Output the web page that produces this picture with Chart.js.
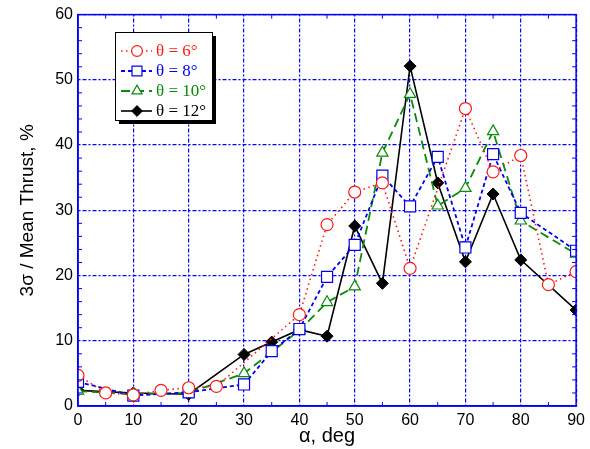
<!DOCTYPE html>
<html>
<head>
<meta charset="utf-8">
<script src="https://cdn.jsdelivr.net/npm/chart.js@4.4.0/dist/chart.umd.min.js"></script>
<style>
  html, body { margin: 0; padding: 0; background: #fff; }
  #wrap { width: 590px; height: 449px; }
</style>
</head>
<body>
<div id="wrap"><canvas id="thrustChart"></canvas></div>
<script>
// angle positions (deg)
const alphaRed = [0, 5, 10, 15, 20, 25, 40, 45, 50, 55, 60, 70, 75, 80, 85, 90];
const alphaOther = [0, 10, 20, 30, 35, 40, 45, 50, 55, 60, 65, 70, 75, 80, 90];

// 3 sigma / mean thrust, %
const theta6 = [4.7, 2.0, 1.7, 2.4, 2.8, 3.0, 14.0, 27.8, 32.8, 34.2, 21.1, 45.6, 35.9, 38.4, 18.6, 20.6];
const theta8 = [3.7, 1.6, 2.1, 3.3, 8.4, 11.8, 19.8, 24.7, 35.3, 30.6, 38.2, 24.3, 38.6, 29.6, 23.8];
const theta10 = [2.3, 1.8, 2.0, 5.0, 8.3, 11.6, 15.9, 18.3, 38.8, 47.8, 30.7, 33.4, 42.1, 28.4, 23.3];
const theta12 = [2.4, 2.0, 1.8, 7.9, 9.8, 11.7, 10.7, 27.6, 18.8, 52.1, 34.2, 22.1, 32.5, 22.4, 14.7];

const seriesLabels = ["θ = 6°", "θ = 8°", "θ = 10°", "θ = 12°"];
const xTicks = [0, 10, 20, 30, 40, 50, 60, 70, 80, 90];
const yTicks = [0, 10, 20, 30, 40, 50, 60];

const AXIS_BLUE = "#0000ff";

function pts(xs, ys) {
  return xs.map((x, i) => ({ x: x, y: ys[i] }));
}

// frame, minor ticks and the boxed legend
const decorPlugin = {
  id: "decor",
  afterDraw(chart) {
    const ctx = chart.ctx;
    const a = chart.chartArea;
    const xs = chart.scales.x;
    const ys = chart.scales.y;

    ctx.save();
    ctx.strokeStyle = AXIS_BLUE;
    ctx.lineWidth = 1.5;
    ctx.setLineDash([]);
    ctx.strokeRect(a.left, a.top, a.right - a.left, a.bottom - a.top);

    // minor ticks, pointing inward
    ctx.lineWidth = 1;
    ctx.beginPath();
    for (let v = 5; v < 90; v += 10) {
      const px = xs.getPixelForValue(v);
      ctx.moveTo(px, a.bottom); ctx.lineTo(px, a.bottom - 4);
      ctx.moveTo(px, a.top); ctx.lineTo(px, a.top + 4);
    }
    for (let v = 2; v < 60; v += 2) {
      if (v % 10 === 0) continue;
      const py = ys.getPixelForValue(v);
      ctx.moveTo(a.left, py); ctx.lineTo(a.left + 4, py);
      ctx.moveTo(a.right, py); ctx.lineTo(a.right - 4, py);
    }
    ctx.stroke();

    // legend box with shadow
    const bx = 115, by = 32, bw = 97, bh = 88;
    ctx.fillStyle = "#000";
    ctx.fillRect(bx + 4, by + 4, bw, bh);
    ctx.fillStyle = "#fff";
    ctx.fillRect(bx, by, bw, bh);
    ctx.strokeStyle = "#000";
    ctx.lineWidth = 1;
    ctx.strokeRect(bx + 0.5, by + 0.5, bw, bh);

    ctx.font = "17px 'Liberation Serif', 'Times New Roman', serif";
    ctx.textBaseline = "middle";
    ctx.textAlign = "left";
    chart.data.datasets.forEach((ds, i) => {
      const ry = 51 + i * 20;
      ctx.strokeStyle = ds.borderColor;
      ctx.lineWidth = ds.borderWidth;
      ctx.setLineDash(ds.borderDash || []);
      ctx.beginPath();
      ctx.moveTo(121, ry); ctx.lineTo(152, ry);
      ctx.stroke();
      ctx.setLineDash([]);
      ctx.fillStyle = ds.pointBackgroundColor;
      ctx.strokeStyle = ds.pointBorderColor;
      ctx.lineWidth = ds.pointBorderWidth;
      Chart.helpers.drawPoint(ctx, {
        pointStyle: ds.pointStyle,
        radius: ds.pointRadius * 0.9,
        rotation: 0,
        borderWidth: ds.pointBorderWidth
      }, 137, ry);
      ctx.fillStyle = ds.borderColor;
      ctx.fillText(seriesLabels[i], 156, ry + 1);
    });
    ctx.restore();
  }
};

const ctx = document.getElementById("thrustChart").getContext("2d");
new Chart(ctx, {
  type: "line",
  data: {
    datasets: [{
      label: seriesLabels[0],
      data: pts(alphaRed, theta6),
      borderColor: "#ff1a1a",
      borderWidth: 1.6,
      borderDash: [1.5, 3.5],
      pointStyle: "circle",
      pointRadius: 6,
      pointBackgroundColor: "#fff",
      pointBorderColor: "#ff1a1a",
      pointBorderWidth: 1.2
    }, {
      label: seriesLabels[1],
      data: pts(alphaOther, theta8),
      borderColor: "#0000ee",
      borderWidth: 1.8,
      borderDash: [4, 3],
      pointStyle: "rect",
      pointRadius: 7.8,
      pointBackgroundColor: "#fff",
      pointBorderColor: "#0000ee",
      pointBorderWidth: 1.2
    }, {
      label: seriesLabels[2],
      data: pts(alphaOther, theta10),
      borderColor: "#0b8a0b",
      borderWidth: 1.8,
      borderDash: [9, 5],
      pointStyle: "triangle",
      pointRadius: 6.5,
      pointBackgroundColor: "#fff",
      pointBorderColor: "#0b8a0b",
      pointBorderWidth: 1.2
    }, {
      label: seriesLabels[3],
      data: pts(alphaOther, theta12),
      borderColor: "#000",
      borderWidth: 1.6,
      pointStyle: "rectRot",
      pointRadius: 6,
      pointBackgroundColor: "#000",
      pointBorderColor: "#000",
      pointBorderWidth: 1
    }]
  },
  options: {
    responsive: true,
    maintainAspectRatio: false,
    animation: false,
    layout: { padding: { top: 13, right: 11, left: 0, bottom: 0 } },
    plugins: {
      legend: { display: false },
      tooltip: { enabled: false }
    },
    scales: {
      x: {
        type: "linear",
        min: 0,
        max: 90,
        afterBuildTicks: axis => { axis.ticks = xTicks.map(v => ({ value: v })); },
        afterFit: axis => { axis.height = 43; },
        ticks: { color: "#000", padding: 5, font: { family: "'Liberation Sans', Arial, sans-serif", size: 16 } },
        grid: { color: AXIS_BLUE, lineWidth: 1.2, drawTicks: false },
        border: { color: AXIS_BLUE, width: 1.5, dash: [2, 2, 4, 2] },
        title: {
          display: true,
          text: "α, deg",
          color: "#000",
          padding: { top: 0, bottom: 1 },
          font: { family: "'Liberation Sans', Arial, sans-serif", size: 20 }
        }
      },
      y: {
        min: 0,
        max: 60,
        afterBuildTicks: axis => { axis.ticks = yTicks.map(v => ({ value: v })); },
        afterFit: axis => { axis.width = 78; },
        ticks: { color: "#000", padding: 5, font: { family: "'Liberation Sans', Arial, sans-serif", size: 16 } },
        grid: { color: AXIS_BLUE, lineWidth: 1.2, drawTicks: false },
        border: { color: AXIS_BLUE, width: 1.5, dash: [2, 2, 4, 2] },
        title: {
          display: true,
          text: "3σ / Mean Thrust, %",
          color: "#000",
          padding: { top: 16, bottom: 0 },
          font: { family: "'Liberation Sans', Arial, sans-serif", size: 19 }
        }
      }
    }
  },
  plugins: [decorPlugin]
});
</script>
</body>
</html>
